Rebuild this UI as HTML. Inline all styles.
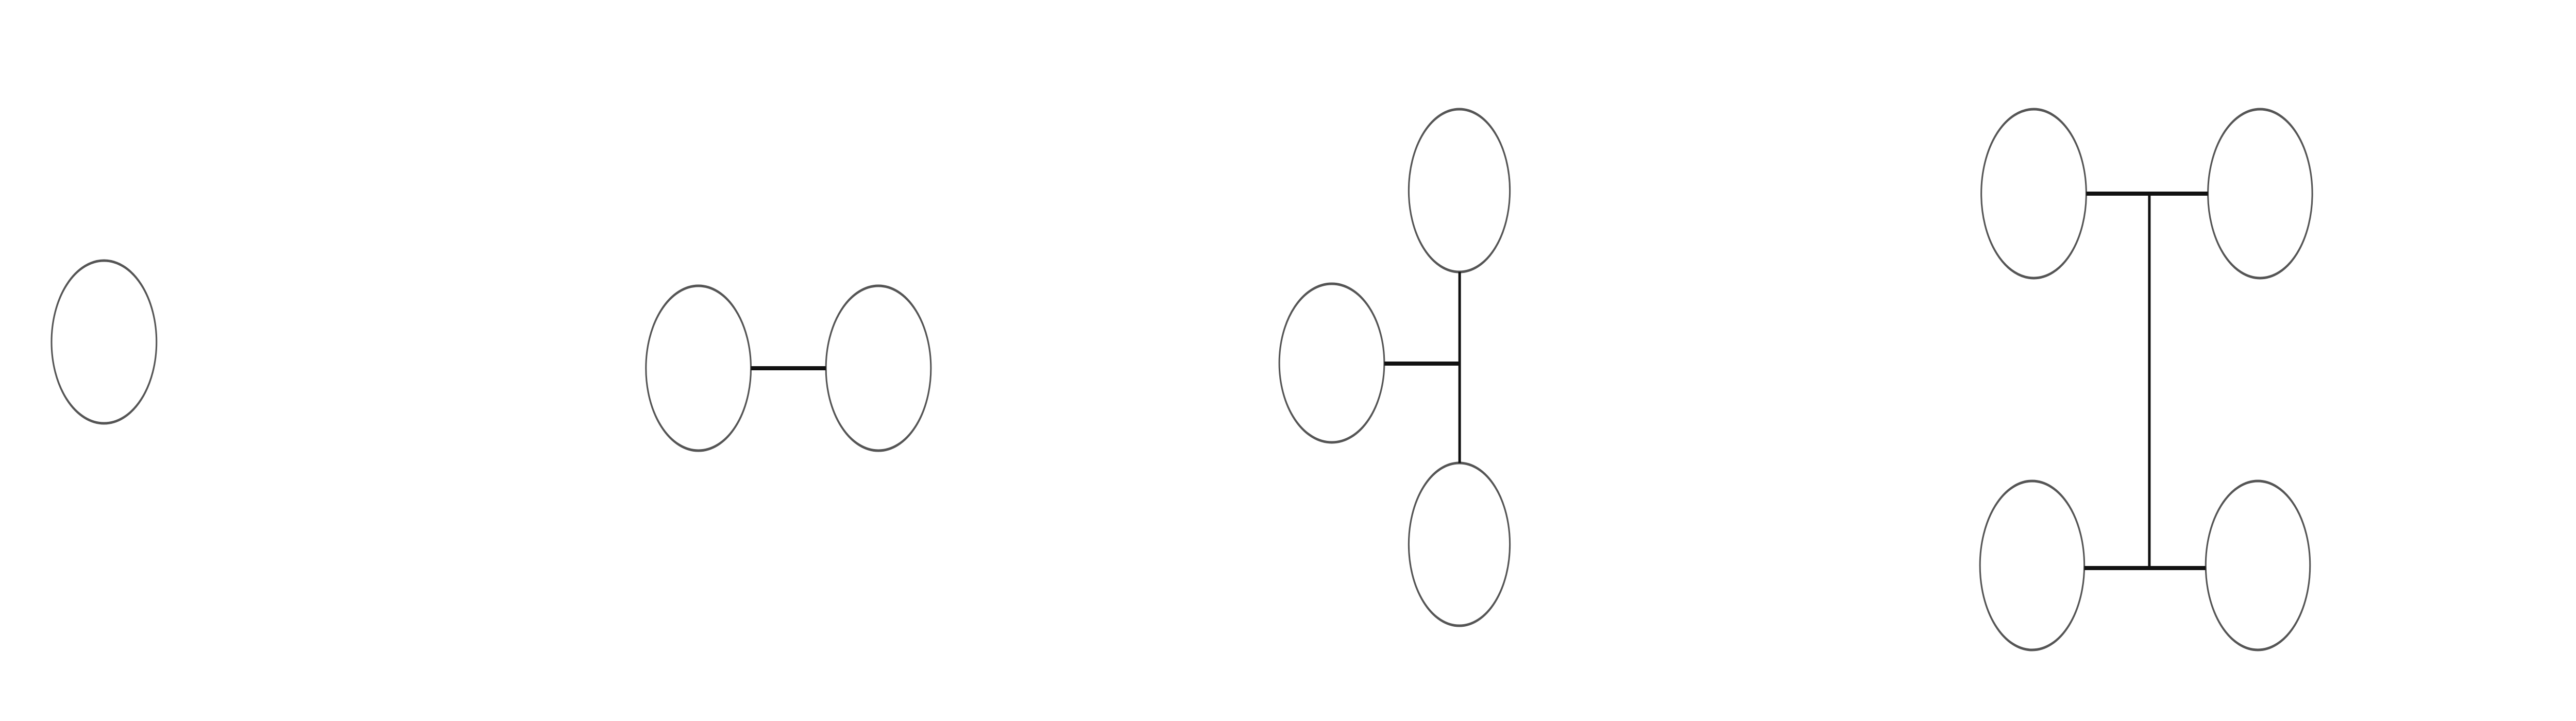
<!DOCTYPE html>
<html><head><meta charset="utf-8"><style>html,body{margin:0;padding:0;background:#fff;overflow:hidden;width:100%;height:100%}svg{display:block;width:100vw;height:100vh}</style></head>
<body>
<svg viewBox="0 0 8000 1400" preserveAspectRatio="none" xmlns="http://www.w3.org/2000/svg">
<rect width="8000" height="1400" fill="#fff"/>
<g fill="none" stroke="#555" stroke-width="5">
<ellipse cx="323" cy="664" rx="163" ry="158"/>
<ellipse cx="2169" cy="715" rx="163" ry="160"/>
<ellipse cx="2728" cy="715" rx="163" ry="160"/>
<ellipse cx="4136" cy="705" rx="163" ry="154"/>
<ellipse cx="4532" cy="370" rx="157" ry="158"/>
<ellipse cx="4532" cy="1057" rx="157" ry="158"/>
<ellipse cx="6316" cy="376" rx="163" ry="164"/>
<ellipse cx="7019" cy="376" rx="162" ry="164"/>
<ellipse cx="6311" cy="1098" rx="162" ry="164"/>
<ellipse cx="7012" cy="1098" rx="162" ry="164"/>
</g>
<g stroke="#111" stroke-width="8" fill="none">
<line x1="2332" y1="715" x2="2565" y2="715"/>
<line x1="4299" y1="706" x2="4533" y2="706"/>
<line x1="4533" y1="528" x2="4533" y2="899"/>
<line x1="6479" y1="376" x2="6857" y2="376"/>
<line x1="6473" y1="1103" x2="6850" y2="1103"/>
<line x1="6675" y1="376" x2="6675" y2="1103"/>
</g>
</svg>
</body></html>
